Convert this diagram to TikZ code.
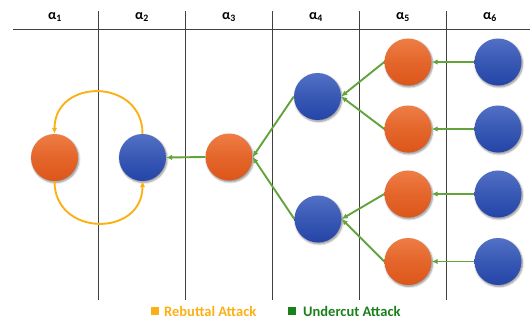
\documentclass[tikz,border=0pt]{standalone}
\usepackage{fontspec}
\setmainfont{Carlito}
\usetikzlibrary{arrows.meta,shadows.blur}
\definecolor{orTop}{HTML}{EE7D45}
\definecolor{orBot}{HTML}{DD561A}
\definecolor{blTop}{HTML}{5270C4}
\definecolor{blBot}{HTML}{2445A8}
\definecolor{rebut}{HTML}{FBB014}
\definecolor{under}{HTML}{62A33A}
\definecolor{underLeg}{HTML}{1A801A}
\definecolor{gridc}{HTML}{404040}
\tikzset{
  argnode/.style={circle,minimum size=47pt,inner sep=0pt,
    blur shadow={shadow xshift=1pt,shadow yshift=-1.5pt,shadow blur steps=6,shadow opacity=45}},
  orangenode/.style={argnode,top color=orTop,bottom color=orBot,middle color=orTop!40!orBot},
  bluenode/.style={argnode,top color=blTop,bottom color=blBot,middle color=blTop!45!blBot},
  grid/.style={gridc,line width=1pt},
  hdr/.style={font=\bfseries\fontsize{14}{16}\selectfont,text=black},
  uc/.style={under,line width=1.9pt,-{Latex[length=6pt,width=5.5pt]}},
  rb/.style={rebut,line width=1.9pt,-{Latex[length=6pt,width=5.5pt]}},
  legtxt/.style={font=\bfseries\fontsize{14.5}{16}\selectfont,anchor=base west,inner sep=0pt}
}
\begin{document}
\begin{tikzpicture}[x=1pt,y=-1pt]
\useasboundingbox (0,0) rectangle (530,324);
% grid
\draw[grid] (13,29) -- (530,29);
\foreach \xx in {98,185,272,359,446} \draw[grid] (\xx,11) -- (\xx,300);
% headers
\node[hdr] (h1) at (55,17) {α\textsubscript{1}};
\node[hdr] (h2) at (142,17) {α\textsubscript{2}};
\node[hdr] (h3) at (229,17) {α\textsubscript{3}};
\node[hdr] (h4) at (316,17) {α\textsubscript{4}};
\node[hdr] (h5) at (403,17) {α\textsubscript{5}};
\node[hdr] (h6) at (490,17) {α\textsubscript{6}};
% nodes
\node[orangenode] (a1) at (54.5,157.5) {};
\node[bluenode] (a2) at (142.5,157.5) {};
\node[orangenode] (a3) at (229,157) {};
\node[bluenode] (b1) at (317.5,96.5) {};
\node[bluenode] (b2) at (318,219) {};
\node[orangenode] (c1) at (408,62) {};
\node[orangenode] (c2) at (408,129) {};
\node[orangenode] (c3) at (408,194) {};
\node[orangenode] (c4) at (408,261.5) {};
\node[bluenode] (d1) at (498,62) {};
\node[bluenode] (d2) at (498,129) {};
\node[bluenode] (d3) at (498,194) {};
\node[bluenode] (d4) at (498,261.5) {};
% rebuttal arcs
\draw[rb] (a2.north) .. controls +(0,-56) and +(0,-56) .. (a1.north);
\draw[rb] (a1.south) .. controls +(0,56) and +(0,56) .. (a2.south);
% undercut
\draw[uc] (a3.west) -- (a2.east);
\draw[uc] (b1.west) -- (a3.east);
\draw[uc] (b2.west) -- (a3.east);
\draw[uc] (c1.west) -- (b1.east);
\draw[uc] (c2.west) -- (b1.east);
\draw[uc] (c3.west) -- (b2.east);
\draw[uc] (c4.west) -- (b2.east);
\draw[uc] (d1.west) -- (c1.east);
\draw[uc] (d2.west) -- (c2.east);
\draw[uc] (d3.west) -- (c3.east);
\draw[uc] (d4.west) -- (c4.east);
% legend
\fill[rebut] (151,307) rectangle (159,315);
\node[legtxt,text=rebut] (l1) at (164,316) {Rebuttal Attack};
\fill[underLeg] (288,307) rectangle (296,315);
\node[legtxt,text=underLeg] (l2) at (303,316) {Undercut Attack};
\end{tikzpicture}
\end{document}
